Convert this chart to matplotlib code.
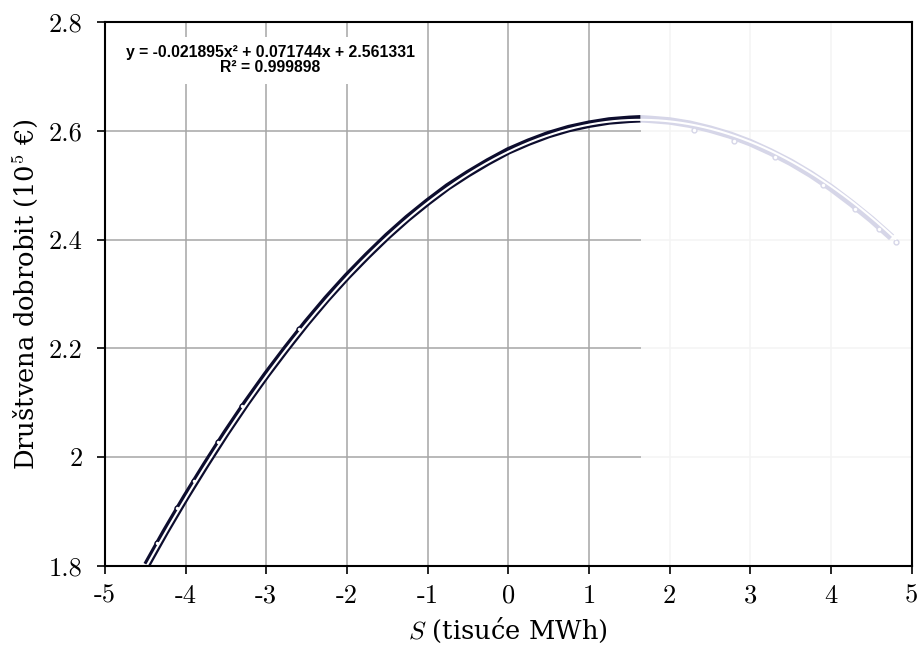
import numpy as np
import matplotlib
matplotlib.use("Agg")
import matplotlib.pyplot as plt
from matplotlib.ticker import FuncFormatter, MultipleLocator

# data (S in thousands of MWh, welfare in 1e5 EUR)
s_vals = [-4.48, -4.25, -4.0, -3.75, -3.5, -3.25, -3.0, -2.75, -2.5, -2.25,
          -2.0, -1.75, -1.5, -1.25, -1.0, -0.75, -0.5, -0.25, 0.0, 0.25,
          0.5, 0.75, 1.0, 1.25, 1.5, 1.64, 1.75, 2.0, 2.25, 2.5,
          2.75, 3.0, 3.25, 3.5, 3.75, 4.0, 4.25, 4.5, 4.75]
welfare = [1.802, 1.863, 1.926, 1.986, 2.044, 2.099, 2.151, 2.200, 2.247, 2.291,
           2.332, 2.370, 2.406, 2.439, 2.469, 2.497, 2.521, 2.543, 2.563, 2.579,
           2.593, 2.604, 2.612, 2.618, 2.621, 2.622, 2.621, 2.618, 2.612, 2.603,
           2.592, 2.578, 2.561, 2.542, 2.520, 2.495, 2.467, 2.437, 2.404]

# a few loose samples sitting off the band
loose_s = [-4.35, -4.1, -3.9, -3.6, -3.3, -2.6, 2.3, 2.8, 3.3, 3.9, 4.3, 4.6, 4.8]
loose_w = [1.843, 1.907, 1.956, 2.027, 2.094, 2.235, 2.602, 2.582, 2.551, 2.500, 2.457, 2.420, 2.395]

# trendline coefficients shown on the chart
coef = [-0.021895, 0.071744, 2.561331]
r2 = 0.999898
fade_from = 1.64

plt.rcParams['font.family'] = ['cmr10', 'DejaVu Serif']
plt.rcParams['mathtext.fontset'] = 'cm'
plt.rcParams['axes.unicode_minus'] = False
plt.rcParams['axes.formatter.use_mathtext'] = True

fig = plt.figure(figsize=(9.2, 6.46), dpi=100)
ax = fig.add_axes([0.114, 0.124, 0.877, 0.842])

s = np.array(s_vals)
w = np.array(welfare)
ls_ = np.array(loose_s)
lw_ = np.array(loose_w)
left = s <= fade_from
right = s >= fade_from

ax.plot(s[left], w[left], color='#0d0d2e', lw=5.4, solid_capstyle='butt', zorder=2)
ax.plot(s[right], w[right], color='#d6d6e8', lw=5.4, solid_capstyle='butt', zorder=2)
ax.plot(ls_[ls_ < fade_from], lw_[ls_ < fade_from], 'o', ms=3.5, mfc='white',
        mec='#0d0d2e', mew=1.0, zorder=2)
ax.plot(ls_[ls_ >= fade_from], lw_[ls_ >= fade_from], 'o', ms=3.5, mfc='white',
        mec='#d6d6e8', mew=1.0, zorder=2)

xs = np.linspace(min(s_vals), max(loose_s), 200)
ax.plot(xs, np.polyval(coef, xs), color='white', lw=1.5, zorder=2.1)

# washed-out grid on the right part of the plot area
ax.axvspan(fade_from, 5, color='white', alpha=0.88, lw=0, zorder=1)

ax.set_xlim(-5, 5)
ax.set_ylim(1.8, 2.8)
ax.xaxis.set_major_locator(MultipleLocator(1))
ax.yaxis.set_major_locator(MultipleLocator(0.2))
ax.xaxis.set_major_formatter(FuncFormatter(lambda v, p: '%g' % v))
ax.yaxis.set_major_formatter(FuncFormatter(lambda v, p: '%g' % round(v, 1)))
ax.grid(True, color='#a6a6a6', lw=1.1)
ax.set_axisbelow(True)
ax.tick_params(direction='out', length=6, width=1.2, labelsize=19, colors='black')
ax.tick_params(axis='y', pad=10)
ax.tick_params(axis='x', pad=7)
for sp in ax.spines.values():
    sp.set_linewidth(1.5)
    sp.set_zorder(3)

ax.set_xlabel('$S$ (tisuće MWh)', fontsize=18.5, family='DejaVu Serif', labelpad=6)
ax.set_ylabel('Društvena dobrobit (10$^5$ €)', fontsize=18.5, family='DejaVu Serif', labelpad=6)

ax.text(0.205, 0.957,
        'y = -%.6fx² + %.6fx + %.6f\nR² = %.6f' % (-coef[0], coef[1], coef[2], r2),
        transform=ax.transAxes, ha='center', va='top', fontsize=11.3,
        family='Liberation Sans', weight='bold', linespacing=1.0,
        bbox=dict(facecolor='white', edgecolor='none', pad=6), zorder=4)

fig.savefig('out.png', dpi=100)
